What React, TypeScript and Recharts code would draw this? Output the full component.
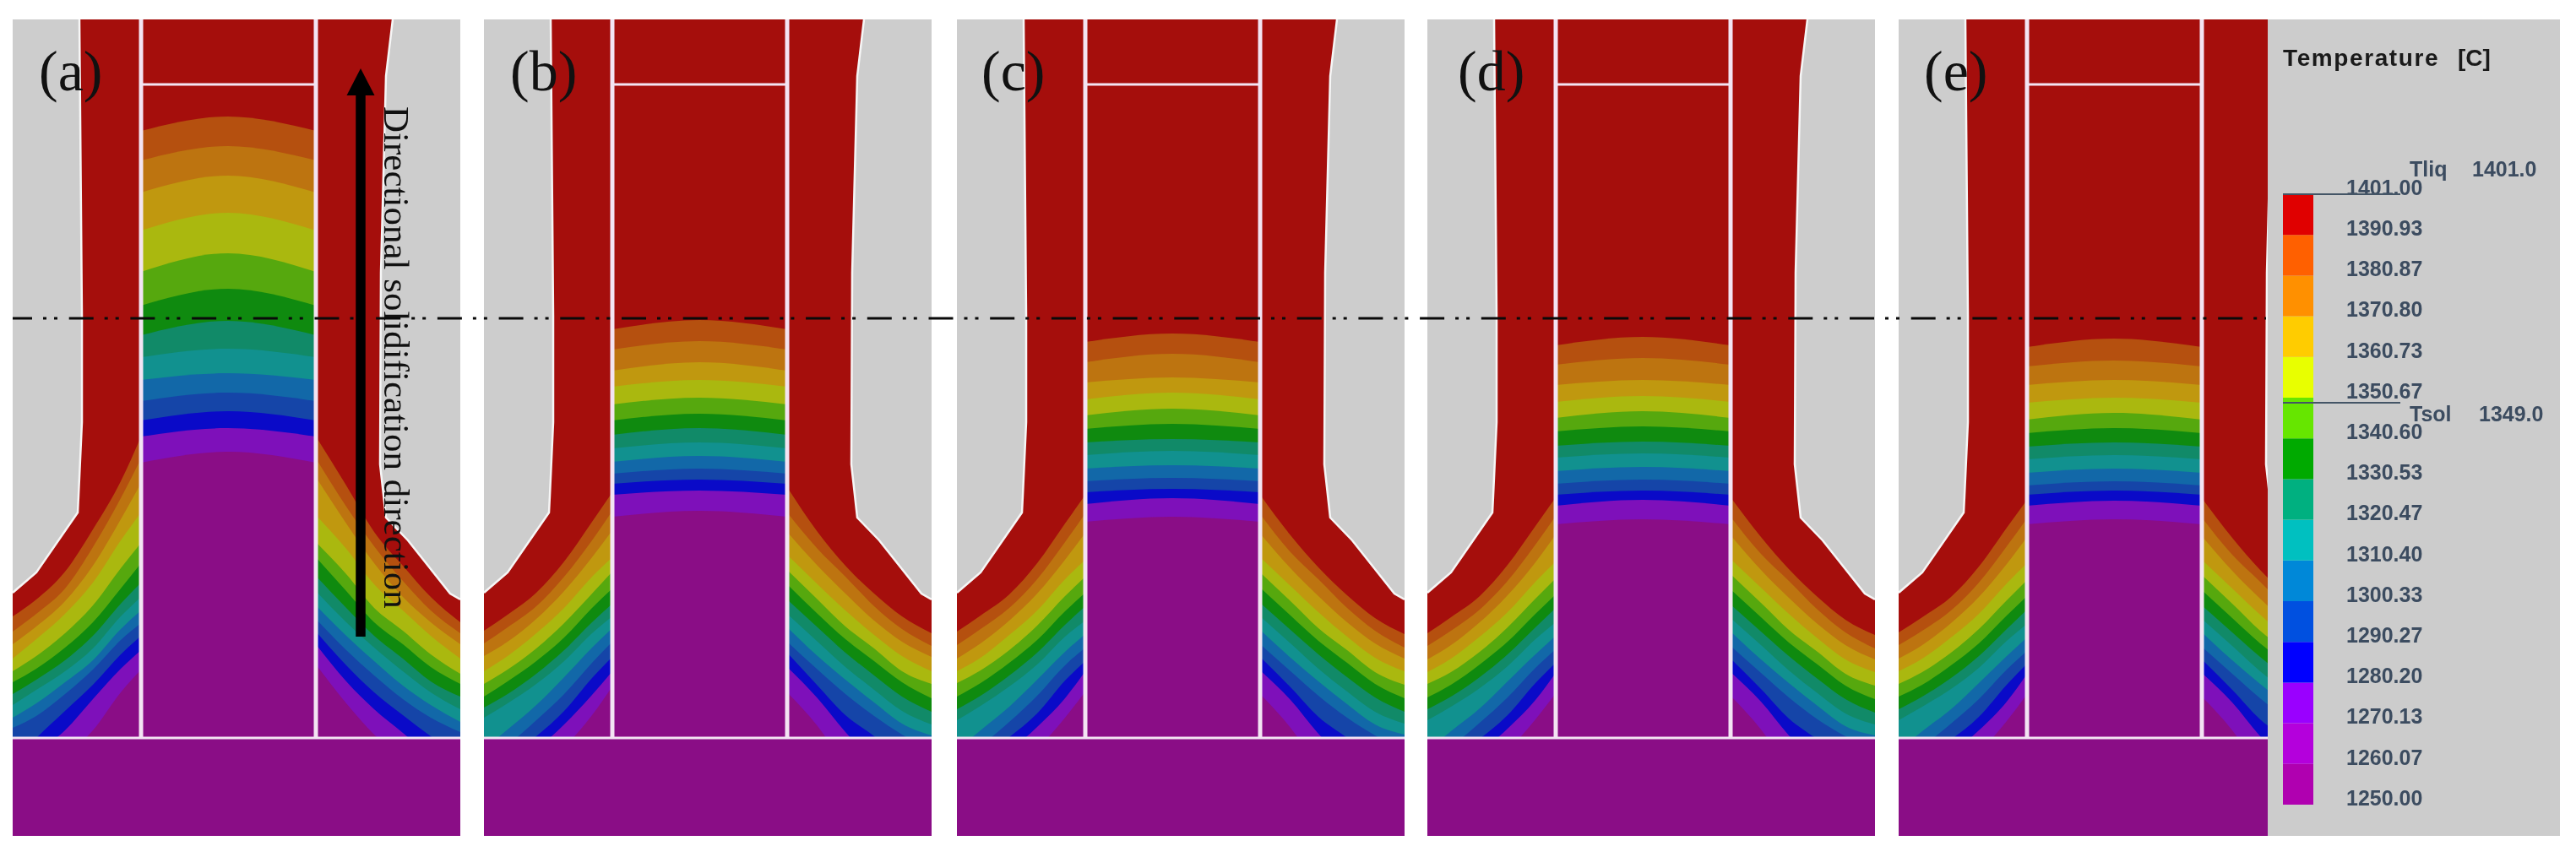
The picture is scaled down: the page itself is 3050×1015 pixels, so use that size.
import { Area, AreaChart, Bar, ComposedChart, Line, XAxis, YAxis } from 'recharts'

// every panel is measured in the same units: x across the panel, h = height above the chill plate
const panelLefts = [15, 573, 1133, 1690, 2248]
const panelNames = ['(a)', '(b)', '(c)', '(d)', '(e)']
const panelLabelX = [46, 604, 1162, 1726, 2278]

const bandColors = [
  '#b5500f', '#bd7410', '#c0980f', '#aab80f', '#56a80e', '#0f8a0f', '#118a68',
  '#11918f', '#1268a8', '#1545a8', '#0a0ac8', '#7e10ba', '#8a0d86',
]

const centerX = [152, 255, 359]
const wingLeftX = [0, 28, 62, 95, 128, 152]
const wingRightX = [359, 395, 428, 462, 495, 530]

const moldLeft = [[0, 172], [28, 196], [77, 267], [78, 287], [82, 374], [82, 500], [79, 851]]
const moldRight = [[450, 851], [442, 784], [436, 551], [435, 324], [442, 261], [468, 234], [518, 171], [530, 164]]

const centerA = [
  [719, 736, 719], [684, 701, 684], [646, 666, 646], [601, 622, 601], [552, 574, 552], [512, 532, 512], [477, 494, 477],
  [451, 461, 451], [424, 432, 424], [399, 409, 399], [376, 387, 376], [357, 367, 357], [326, 339, 326],
]
const centerB = [
  [484, 495, 484], [460, 470, 460], [435, 445, 435], [416, 424, 416], [395, 403, 395], [376, 384, 376], [359, 367, 359],
  [343, 350, 343], [327, 334, 327], [313, 319, 313], [301, 306, 301], [288, 293, 288], [262, 269, 262],
]
const centerC = [
  [469, 479, 469], [445, 455, 445], [421, 427, 421], [401, 409, 401], [382, 390, 382], [366, 372, 366], [350, 354, 350],
  [335, 340, 335], [319, 323, 319], [304, 308, 304], [291, 295, 291], [277, 284, 277], [256, 262, 256],
]
const centerD = [
  [465, 475, 465], [442, 450, 442], [418, 424, 418], [398, 405, 398], [379, 387, 379], [363, 369, 363], [346, 351, 346],
  [332, 337, 332], [316, 321, 316], [301, 306, 301], [288, 293, 288], [275, 282, 275], [253, 259, 253],
]
const centerE = [
  [463, 473, 463], [440, 447, 440], [418, 424, 418], [397, 403, 397], [377, 385, 377], [361, 367, 361], [345, 350, 345],
  [330, 335, 330], [314, 319, 314], [299, 304, 299], [288, 293, 288], [275, 281, 275], [253, 259, 253],
]

const wingLeftA = [
  [144, 164, 197, 247, 304, 357], [126, 147, 177, 226, 284, 331], [111, 132, 162, 204, 259, 302],
  [94, 117, 147, 184, 234, 267], [79, 97, 124, 157, 201, 231], [66, 82, 107, 137, 177, 207],
  [52, 69, 92, 121, 159, 184], [39, 57, 79, 106, 144, 167], [24, 41, 66, 92, 129, 151],
  [12, 26, 52, 81, 116, 136], [-30, 0, 32, 63, 99, 121], [-46, -19, 9, 46, 82, 104], [-90, -56, -23, 9, 54, 81],
]
const wingRightA = [
  [357, 299, 244, 204, 167, 137], [331, 274, 227, 186, 151, 124], [309, 254, 207, 167, 137, 111],
  [264, 224, 182, 151, 121, 94], [232, 194, 154, 127, 99, 76], [214, 174, 137, 111, 84, 64],
  [192, 154, 121, 94, 67, 49], [174, 137, 107, 79, 54, 34], [157, 121, 91, 62, 39, 19],
  [141, 104, 74, 46, 24, 7], [126, 86, 54, 27, 2, -23], [111, 67, 34, 6, -23, -60], [87, 41, 4, -26, -60, -90],
]
const wingLeftB = [
  [127, 146, 172, 209, 256, 291], [112, 131, 156, 191, 234, 269], [97, 114, 141, 174, 214, 246],
  [79, 97, 124, 154, 191, 214], [64, 81, 106, 136, 171, 197], [49, 67, 91, 119, 154, 177],
  [36, 52, 76, 104, 137, 159], [24, 41, 64, 91, 124, 144], [-13, 10, 39, 72, 107, 130],
  [-24, -8, 21, 52, 89, 114], [-44, -23, 2, 32, 71, 96], [-69, -43, -14, 16, 51, 79], [-103, -69, -39, -11, 27, 61],
]
const wingRightB = [
  [297, 244, 204, 171, 144, 124], [267, 224, 191, 156, 129, 109], [244, 204, 171, 139, 114, 96],
  [217, 182, 151, 122, 97, 79], [199, 164, 132, 106, 79, 64], [182, 147, 117, 91, 66, 47],
  [164, 131, 101, 74, 49, 31], [147, 114, 84, 57, 32, 16], [131, 97, 69, 42, 17, 3],
  [114, 81, 52, 26, 4, -16], [101, 62, 27, 2, -26, -49], [84, 47, 7, -29, -59, -93], [54, 14, -33, -69, -103, -110],
]
const wingLeftC = [
  [126, 145, 170, 207, 254, 288], [110, 129, 154, 188, 232, 266], [94, 112, 139, 171, 211, 243],
  [79, 95, 122, 151, 188, 211], [65, 80, 104, 133, 168, 191], [49, 65, 89, 116, 150, 172],
  [34, 50, 74, 101, 134, 156], [21, 38, 61, 87, 120, 139], [-14, 9, 37, 69, 102, 123],
  [-25, -9, 19, 50, 86, 107], [-45, -24, 1, 29, 68, 91], [-70, -44, -16, 13, 47, 79], [-103, -70, -41, -13, 24, 55],
]
const wingRightC = [
  [288, 240, 202, 169, 142, 123], [265, 220, 188, 154, 127, 107], [242, 201, 168, 137, 112, 94],
  [214, 180, 149, 120, 95, 79], [196, 162, 130, 104, 78, 63], [178, 145, 115, 89, 64, 47],
  [160, 128, 99, 72, 48, 31], [144, 112, 82, 55, 31, 17], [128, 95, 67, 40, 16, 4],
  [111, 79, 50, 24, 3, -15], [96, 60, 25, 0, -27, -50], [80, 45, 5, -30, -60, -93], [52, 12, -35, -70, -103, -110],
]
const wingLeftD = [
  [124, 143, 168, 205, 251, 285], [109, 127, 152, 186, 229, 263], [93, 110, 137, 169, 208, 241],
  [78, 94, 120, 149, 185, 209], [64, 78, 102, 131, 165, 189], [48, 63, 87, 114, 147, 170],
  [34, 49, 72, 99, 131, 154], [21, 37, 59, 85, 117, 137], [-15, 8, 35, 67, 99, 121],
  [-26, -10, 18, 48, 83, 105], [-46, -25, -1, 27, 65, 89], [-71, -45, -18, 11, 45, 77], [-103, -71, -42, -15, 22, 53],
]
const wingRightD = [
  [285, 238, 200, 167, 140, 122], [262, 218, 186, 152, 125, 106], [240, 199, 166, 135, 110, 93],
  [212, 178, 147, 118, 93, 78], [194, 160, 128, 102, 76, 62], [176, 143, 113, 87, 62, 46],
  [158, 126, 97, 70, 46, 30], [142, 110, 80, 53, 29, 16], [126, 93, 65, 38, 14, 3],
  [109, 77, 48, 22, 2, -15], [94, 58, 23, -2, -28, -51], [78, 43, 3, -32, -61, -93], [50, 10, -37, -72, -104, -110],
]
const wingLeftE = [
  [125, 143, 167, 203, 249, 282], [110, 127, 151, 184, 227, 260], [94, 110, 136, 167, 206, 238],
  [79, 94, 119, 147, 183, 207], [64, 78, 101, 129, 163, 187], [49, 63, 86, 112, 145, 168],
  [34, 49, 71, 97, 129, 152], [21, 37, 58, 83, 115, 135], [-15, 8, 34, 65, 97, 119],
  [-26, -10, 17, 46, 81, 103], [-46, -25, -2, 25, 63, 88], [-71, -45, -19, 9, 43, 76], [-103, -71, -43, -17, 20, 52],
]
const wingRightE = [
  [284, 237, 199, 166, 139, 121], [261, 217, 185, 151, 124, 105], [239, 198, 165, 134, 109, 92],
  [211, 177, 146, 117, 92, 77], [193, 159, 127, 101, 75, 61], [175, 142, 112, 86, 61, 45],
  [157, 125, 96, 69, 45, 29], [141, 109, 79, 52, 28, 15], [125, 92, 64, 37, 13, 2],
  [108, 76, 47, 21, 1, -16], [93, 57, 22, -3, -29, -52], [77, 42, 2, -33, -62, -94], [49, 9, -38, -73, -105, -110],
]

const panelCenters = [centerA, centerB, centerC, centerD, centerE]
const panelWingsLeft = [wingLeftA, wingLeftB, wingLeftC, wingLeftD, wingLeftE]
const panelWingsRight = [wingRightA, wingRightB, wingRightC, wingRightD, wingRightE]

const legendTicks = [
  1250, 1260.07, 1270.13, 1280.2, 1290.27, 1300.33, 1310.4, 1320.47, 1330.53, 1340.6, 1350.67, 1360.73, 1370.8,
  1380.87, 1390.93, 1401,
]
const legendColors = [
  '#b000b0', '#b400dc', '#9a00ff', '#0000ff', '#0050e0', '#0088d8', '#00c0c0', '#00b080', '#00aa00', '#66e600',
  '#e8ff00', '#ffcc00', '#ff9000', '#ff6000', '#e00000',
]
// the stack starts with an unpainted piece that lifts it up to the scale's minimum
const legendRow = [
  legendTicks.slice(1).reduce<Record<string, number | string>>(
    (row, tick, i) => ({ ...row, [`s${i}`]: tick - legendTicks[i] }),
    { name: 'Temperature', lift: legendTicks[0] },
  ),
]

const toPoints = (xs: number[], row: number[]) => xs.map((x, i) => ({ x, h: row[i] }))
const fromPairs = (pairs: number[][]) => pairs.map(([x, h]) => ({ x, h }))

const railColor = '#f3e4f3'

function Panel({ index }: { index: number }) {
  const contours = [
    ...panelWingsLeft[index].map((row, i) => ({ key: `l${i}`, pts: toPoints(wingLeftX, row), fill: bandColors[i] })),
    ...panelWingsRight[index].map((row, i) => ({ key: `r${i}`, pts: toPoints(wingRightX, row), fill: bandColors[i] })),
  ]
  return (
    <div style={{ position: 'absolute', left: panelLefts[index], top: 23 }}>
      <AreaChart
        width={530}
        height={967}
        margin={{ top: 0, right: 0, bottom: 0, left: 0 }}
        style={{ background: '#cdcdcd' }}
      >
        <XAxis type="number" dataKey="x" domain={[0, 530]} hide />
        <YAxis type="number" domain={[-116, 851]} hide />
        <Area
          data={fromPairs([...moldLeft, ...moldRight])}
          dataKey="h"
          baseValue={0}
          type="linear"
          fill="#a50e0c"
          fillOpacity={1}
          stroke="none"
          dot={false}
          activeDot={false}
          isAnimationActive={false}
        />
        {contours.map((c) => (
          <Area
            key={c.key}
            data={c.pts}
            dataKey="h"
            baseValue={-116}
            type="monotone"
            fill={c.fill}
            fillOpacity={1}
            stroke="none"
            dot={false}
            activeDot={false}
            isAnimationActive={false}
          />
        ))}
        {panelCenters[index].map((row, i) => (
          <Area
            key={`c${i}`}
            data={toPoints(centerX, row)}
            dataKey="h"
            baseValue={-116}
            type="natural"
            fill={bandColors[i]}
            fillOpacity={1}
            stroke="none"
            dot={false}
            activeDot={false}
            isAnimationActive={false}
          />
        ))}
        <Area
          data={fromPairs([[0, 0], [530, 0]])}
          dataKey="h"
          baseValue={-116}
          type="linear"
          fill="#8a0d86"
          fillOpacity={1}
          stroke="none"
          dot={false}
          activeDot={false}
          isAnimationActive={false}
        />
        <Line data={fromPairs(moldLeft)} dataKey="h" stroke="#f6f6f6" strokeWidth={2.5} dot={false} activeDot={false} isAnimationActive={false} />
        <Line data={fromPairs(moldRight)} dataKey="h" stroke="#f6f6f6" strokeWidth={2.5} dot={false} activeDot={false} isAnimationActive={false} />
        <Line data={fromPairs([[152, 0], [152, 851]])} dataKey="h" stroke={railColor} strokeWidth={5} dot={false} activeDot={false} isAnimationActive={false} />
        <Line data={fromPairs([[359, 0], [359, 851]])} dataKey="h" stroke={railColor} strokeWidth={5} dot={false} activeDot={false} isAnimationActive={false} />
        <Line data={fromPairs([[152, 774], [359, 774]])} dataKey="h" stroke={railColor} strokeWidth={3} dot={false} activeDot={false} isAnimationActive={false} />
        <Line data={fromPairs([[0, 0], [530, 0]])} dataKey="h" stroke={railColor} strokeWidth={3} dot={false} activeDot={false} isAnimationActive={false} />
      </AreaChart>
    </div>
  )
}

function TemperatureLegend() {
  return (
    <div style={{ position: 'absolute', left: 2685, top: 23 }}>
      <ComposedChart
        width={346}
        height={967}
        data={legendRow}
        margin={{ top: 207, right: 92, bottom: 37, left: 18 }}
        barCategoryGap={0}
        style={{ background: '#cccccc' }}
      >
        <XAxis dataKey="name" hide />
        <YAxis
          orientation="right"
          type="number"
          width={200}
          domain={[1250, 1401]}
          allowDataOverflow
          ticks={legendTicks}
          interval={0}
          axisLine={false}
          tickLine={false}
          tickSize={0}
          tickMargin={39}
          tickFormatter={(v: number) => v.toFixed(2)}
          tick={{ fill: '#3c4c60', fontSize: 25, fontWeight: 700, fontFamily: 'Liberation Sans', dy: -8 }}
        />
        <Bar dataKey="lift" stackId="legend" fill="none" isAnimationActive={false} />
        {legendColors.map((color, i) => (
          <Bar key={color} dataKey={`s${i}`} stackId="legend" fill={color} isAnimationActive={false} />
        ))}
      </ComposedChart>
    </div>
  )
}

const serif = 'Liberation Serif'
const sans = 'Liberation Sans'

function Overlay() {
  const plain = { dot: false, activeDot: false, isAnimationActive: false } as const
  return (
    <div style={{ position: 'absolute', left: 0, top: 0 }}>
      <ComposedChart width={3050} height={1015} margin={{ top: 0, right: 0, bottom: 0, left: 0 }}>
        <XAxis type="number" dataKey="x" domain={[0, 3050]} hide />
        <YAxis type="number" domain={[0, 1015]} reversed hide />
        <Line
          {...plain}
          data={[{ x: 15, y: 377 }, { x: 2683, y: 377 }]}
          dataKey="y"
          stroke="#0a0a0a"
          strokeWidth={3}
          strokeDasharray="29 13 4 9 4 13.7"
          strokeDashoffset={6}
        />
        <Line {...plain} data={[{ x: 427, y: 754 }, { x: 427, y: 110 }]} dataKey="y" stroke="#000000" strokeWidth={11.5} />
        <Area
          {...plain}
          data={[{ x: 410.5, y: 113 }, { x: 427, y: 81 }, { x: 443.5, y: 113 }]}
          dataKey="y"
          baseValue={113}
          type="linear"
          fill="#000000"
          fillOpacity={1}
          stroke="none"
        />
        <Line {...plain} data={[{ x: 2703, y: 230 }, { x: 2842, y: 230 }]} dataKey="y" stroke="#445566" strokeWidth={2} />
        <Line {...plain} data={[{ x: 2703, y: 477 }, { x: 2842, y: 477 }]} dataKey="y" stroke="#445566" strokeWidth={2} />
        {panelNames.map((name, i) => (
          <text key={name} x={panelLabelX[i]} y={107} fontFamily={serif} fontSize={68} fill="#111111">
            {name}
          </text>
        ))}
        <text x={455} y={126} transform="rotate(90 455 126)" fontFamily={serif} fontSize={43} fill="#111111">
          Directional solidification direction
        </text>
        <text x={2703} y={78} fontFamily={sans} fontWeight={700} fontSize={28} letterSpacing={1.6} fill="#1a1a1a">
          Temperature
        </text>
        <text x={2910} y={78} fontFamily={sans} fontWeight={700} fontSize={28} fill="#1a1a1a">
          [C]
        </text>
        <text x={2853} y={209} fontFamily={sans} fontWeight={700} fontSize={25} fill="#3c4c60">
          Tliq
        </text>
        <text x={2927} y={209} fontFamily={sans} fontWeight={700} fontSize={25} fill="#3c4c60">
          1401.0
        </text>
        <text x={2853} y={499} fontFamily={sans} fontWeight={700} fontSize={25} fill="#3c4c60">
          Tsol
        </text>
        <text x={2935} y={499} fontFamily={sans} fontWeight={700} fontSize={25} fill="#3c4c60">
          1349.0
        </text>
      </ComposedChart>
    </div>
  )
}

export default function App() {
  return (
    <div
      style={{
        position: 'absolute',
        left: 0,
        top: 0,
        width: 3050,
        height: 1015,
        background: '#ffffff',
        overflow: 'hidden',
        filter: 'blur(0.7px)',
      }}
    >
      {panelNames.map((name, i) => (
        <Panel key={name} index={i} />
      ))}
      <TemperatureLegend />
      <Overlay />
    </div>
  )
}
